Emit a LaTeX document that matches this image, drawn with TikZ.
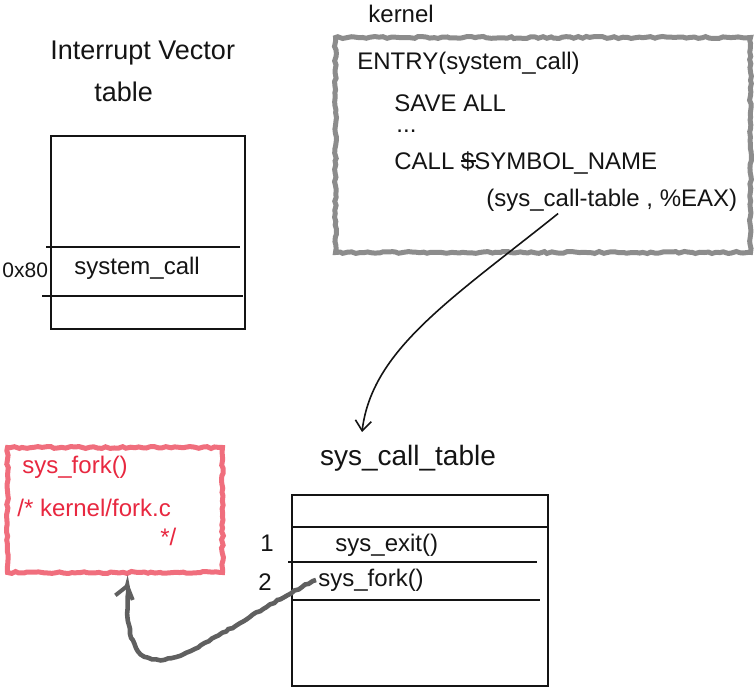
\documentclass[tikz,border=0pt]{standalone}
\usepackage{fontspec}
\setmainfont{Liberation Sans}
\usepackage{tikz}
\usetikzlibrary{arrows.meta,positioning,decorations.pathmorphing,calc}

\definecolor{pen}{RGB}{20,20,20}
\definecolor{redpen}{RGB}{232,40,64}
\definecolor{redbox}{RGB}{240,110,125}

\newcommand\strikechar[1]{\leavevmode\rlap{\raisebox{0.32em}{\rule{0.6em}{1pt}}}#1}

\begin{document}
\begin{tikzpicture}[x=0.5pt, y=-0.5pt,
  every node/.style={font=\fontsize{12}{21}\selectfont, text=pen},
  tbl/.style={rectangle, draw=pen, line width=1pt, anchor=north west, inner sep=0pt},
  rowline/.style={draw=pen, line width=1pt},
  txt/.style={anchor=west, inner sep=1pt},
  redtxt/.style={anchor=west, inner sep=1pt, text=redpen},
  pencil/.style={rectangle, anchor=north west, inner sep=0pt, line width=2.5pt,
    decorate, decoration={random steps, segment length=2pt, amplitude=0.5pt}},
  arrow/.style={-{Straight Barb[length=5pt, width=8pt]}, draw=pen, line width=0.8pt},
  grayarrow/.style={-{Straight Barb[length=6pt, width=9pt, line width=2pt]}, draw=gray!75!black, line width=2.3pt,
    decorate, decoration={random steps, segment length=2pt, amplitude=0.4pt}}
]
\useasboundingbox (0,0) rectangle (754,688);

% Interrupt vector table
\node[txt, align=left, font=\fontsize{13.5}{21}\selectfont] (ivtlbl) at (48,71) {Interrupt Vector\\\hspace{22pt}table};
\node[tbl, minimum width=97pt, minimum height=96.5pt] (ivt) at (50,135) {};
\draw[rowline] (46,247) -- (240,247);
\draw[rowline] (42,296) -- (243,296);
\node[txt, font=\fontsize{10.5}{12}\selectfont] (vec) at (0,270) {0x80};
\node[txt] (syscall) at (72,268) {system\_call};

% Kernel entry code
\node[txt] (klbl) at (366,14) {kernel};
\node[pencil, draw=gray!90, minimum width=207.5pt, minimum height=107.5pt] (kbox) at (333,35) {};
\node[txt] (entry) at (355,63) {ENTRY(system\_call)};
\node[txt] (save) at (392,103) {SAVE ALL};
\node[txt, inner sep=0pt] (dots) at (396,131) {...};
\node[txt] (callsym) at (392,163) {CALL \strikechar{\$}SYMBOL\_NAME};
\node[txt] (ktab) at (484,200) {(sys\_call-table , \%EAX)};

% sys_call_table
\node[font=\fontsize{14}{16}\selectfont] (sctlbl) at (408,458) {sys\_call\_table};
\node[tbl, minimum width=128pt, minimum height=95.5pt] (sct) at (291,494) {};
\draw[rowline] (291,527) -- (548,527);
\draw[rowline] (288,562) -- (537,562);
\draw[rowline] (291,600) -- (540,600);
\node[txt] (one) at (258,543) {1};
\node[txt] (two) at (256,582) {2};
\node[txt] (sexit) at (333,545) {sys\_exit()};
\node[txt] (sfork) at (316,580) {sys\_fork()};

% sys_fork source
\node[pencil, draw=redbox, fill=white, minimum width=107.5pt, minimum height=62.5pt] (fork) at (5,445) {};
\node[redtxt] (forkname) at (20,467) {sys\_fork()};
\node[redtxt] (forkcmt) at (15,508) {/* kernel/fork.c};
\node[redtxt] (forkend) at (158,537) {*/};

% Arrows
\coordinate (ktip) at (362,432);
\draw[arrow] ($(ktab.south west)!0.29!(ktab.south east)$) .. controls (450,300) and (372,350) .. (ktip);
\draw[grayarrow] (sfork.west) .. controls (210,630) and (120,730) .. ([xshift=6.5pt,yshift=-4pt]fork.south);

\end{tikzpicture}
\end{document}
